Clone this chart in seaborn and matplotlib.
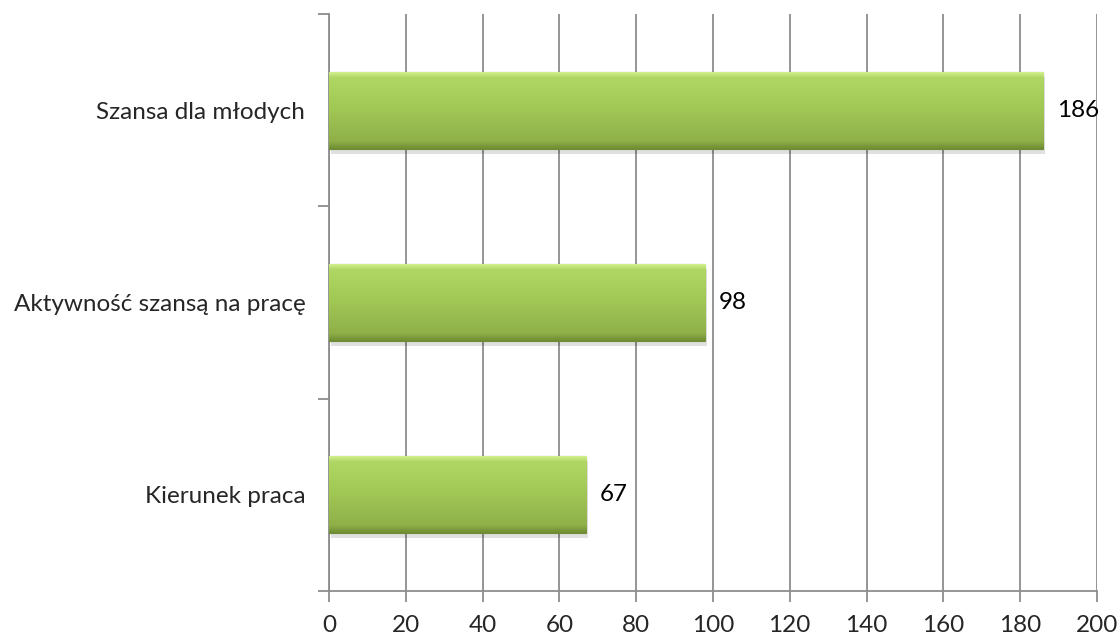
import numpy as np
import pandas as pd
import matplotlib
matplotlib.use('Agg')
import matplotlib.pyplot as plt
import seaborn as sns
from matplotlib.colors import LinearSegmentedColormap

# data
categories = ['Szansa dla młodych', 'Aktywność szansą na pracę', 'Kierunek praca']
values = [186, 98, 67]
x_ticks = [0, 20, 40, 60, 80, 100, 120, 140, 160, 180, 200]

df = pd.DataFrame({'kategoria': categories, 'liczba': values})

sns.set_style('white')
plt.rcParams['font.family'] = ['Lato', 'DejaVu Sans']

fig = plt.figure(figsize=(11.17, 6.36), dpi=100)
ax = fig.add_axes([0.2945, 0.0708, 0.6875, 0.907])

sns.barplot(data=df, y='kategoria', x='liczba', orient='h', color='#9bbb59',
            width=0.4, ax=ax, zorder=3, saturation=1)

# gradient fill on each bar
grad = LinearSegmentedColormap.from_list(
    'g', [(0, '#d4f090'), (0.07, '#b0d764'), (0.5, '#a0c654'), (0.9, '#8fb049'), (1, '#6e8c32')])
for p in ax.patches:
    x0, y0 = p.get_x(), p.get_y()
    w, h = p.get_width(), p.get_height()
    # soft shadow under bar
    ax.add_patch(plt.Rectangle((x0 + 0.5, y0 + 0.025), w, h, facecolor='#000000',
                               alpha=0.12, zorder=2, linewidth=0))
    img = ax.imshow(np.linspace(0, 1, 256).reshape(-1, 1), cmap=grad, aspect='auto',
                    extent=[x0, x0 + w, y0 + h, y0], origin='upper', zorder=3.5)
    img.set_clip_path(p)
    p.set_edgecolor('#6f8c34')
    p.set_linewidth(0.8)

for i, v in enumerate(values):
    ax.text(v + 3.5, i, str(v), va='center', ha='left', fontsize=17.5, color='black')

ax.set_xlim(0, 200)
ax.set_ylim(2.5, -0.5)
ax.set_xticks(x_ticks)
ax.set_xticklabels([str(t) for t in x_ticks], fontsize=17.5)
ax.set_yticks([0, 1, 2])
ax.set_yticklabels(categories, fontsize=17.5)
ax.set_xlabel('')
ax.set_ylabel('')

ax.grid(axis='x', color='#8c8c8c', linewidth=1.3, zorder=0)
ax.grid(axis='y', visible=False)
for s in ['top', 'right']:
    ax.spines[s].set_visible(False)
for s in ['left', 'bottom']:
    ax.spines[s].set_color('#8c8c8c')
    ax.spines[s].set_linewidth(1.3)

# tick marks: x ticks below axis, y ticks at category boundaries
ax.tick_params(axis='x', bottom=True, length=8, width=1.3, color='#8c8c8c',
               direction='out', pad=9)
ax.tick_params(axis='y', which='major', left=True, length=0, pad=17)
ax.set_yticks([-0.5, 0.5, 1.5, 2.5], minor=True)
ax.tick_params(axis='y', which='minor', left=True, length=8, width=1.3,
               color='#8c8c8c', direction='out')

fig.savefig('out.png', dpi=100)
